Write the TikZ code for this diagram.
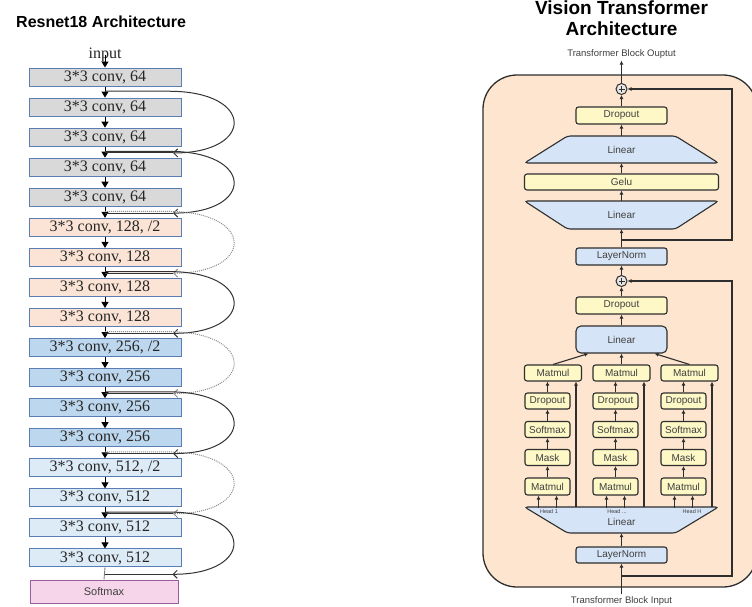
\documentclass[tikz,border=0pt]{standalone}
\usepackage{fontspec}
\setmainfont{Liberation Sans}
\newfontfamily\tnr{Liberation Serif}
\usetikzlibrary{arrows.meta,calc}
\definecolor{cgray}{HTML}{D9D9D9}
\definecolor{cpeach}{HTML}{FBE4D5}
\definecolor{cblue}{HTML}{BDD7EE}
\definecolor{clblue}{HTML}{DDEBF7}
\definecolor{cborder}{HTML}{5B7DB5}
\definecolor{smfill}{HTML}{F6D5EA}
\definecolor{smborder}{HTML}{9A5FA0}
\definecolor{vyellow}{HTML}{FDF8C6}
\definecolor{vblue}{HTML}{D6E4F7}
\definecolor{bgpeach}{HTML}{FDE5CF}
\definecolor{vline}{HTML}{2E2E2E}
\definecolor{plusfill}{HTML}{E6E6E6}
\begin{document}
\begin{tikzpicture}[x=1pt,y=-1pt,
  conv/.style={draw=cborder, line width=1pt, minimum width=152pt, minimum height=18pt, inner sep=0pt,
    font=\tnr\fontsize{16}{18}\selectfont, text=black!85},
  sarr/.style={draw=black, line width=1pt, -{Triangle[length=6pt,width=7pt]}},
  skips/.style={draw=black!80, line width=1pt, -{Straight Barb[length=4pt,width=8pt]}},
  skipd/.style={draw=black!45, line width=1pt, densely dotted, -{Straight Barb[length=4pt,width=8pt]}},
  skipin/.style={draw=black!80, line width=1pt},
  vb/.style={draw=vline, line width=1.1pt, rounded corners=2.5pt, inner sep=0pt,
    font=\fontsize{10}{11}\selectfont, text=black!75},
  yb/.style={vb, fill=vyellow},
  bb/.style={vb, fill=vblue},
  vlab/.style={inner sep=0pt, font=\fontsize{10}{11}\selectfont, text=black!75},
  va/.style={draw=vline, line width=1.1pt, -{Latex[length=4pt,width=4pt]}},
  tshape/.style={fill=vblue, draw=vline, line width=1.1pt, rounded corners=3pt},
  headlab/.style={inner sep=0pt, font=\fontsize{5.5}{6}\selectfont, text=black!75}
]
\useasboundingbox (0,0) rectangle (752,606);

% ================= ResNet18 =================
\node[anchor=west, font=\bfseries\fontsize{16}{18}\selectfont, inner sep=0pt] (t1) at (16,22) {Resnet18 Architecture};
\node[font=\tnr\fontsize{16}{18}\selectfont, inner sep=0pt, text=black!85] (inp) at (105,55) {input};

\foreach \i/\c/\t in {1/cgray/{3*3 conv, 64},2/cgray/{3*3 conv, 64},3/cgray/{3*3 conv, 64},4/cgray/{3*3 conv, 64},5/cgray/{3*3 conv, 64},
  6/cpeach/{3*3 conv, 128, /2},7/cpeach/{3*3 conv, 128},8/cpeach/{3*3 conv, 128},9/cpeach/{3*3 conv, 128},
  10/cblue/{3*3 conv, 256, /2},11/cblue/{3*3 conv, 256},12/cblue/{3*3 conv, 256},13/cblue/{3*3 conv, 256},
  14/clblue/{3*3 conv, 512, /2},15/clblue/{3*3 conv, 512},16/clblue/{3*3 conv, 512},17/clblue/{3*3 conv, 512}}{
  \pgfmathsetmacro\yy{77+30.06*(\i-1)}
  \node[conv, fill=\c] (b\i) at (105,\yy) {\t};
}
\node[draw=smborder, fill=smfill, line width=1pt, minimum width=148pt, minimum height=23pt, inner sep=0pt,
  font=\fontsize{11}{12}\selectfont, text=black!75] (sm) at (104,591.5) {Softmax};

\draw[sarr] (inp.center) -- (b1.north);
\foreach \i [evaluate=\i as \j using int(\i+1)] in {1,...,16}{
  \draw[sarr] (b\i.south) -- (b\j.north);
  \coordinate (j\i) at ($(b\i.south)!0.5!(b\j.north)$);
}
\coordinate (j17) at ($(b17.south)!0.5!(sm.north)$);
\draw[draw=black!50, line width=0.9pt] (b17.south) -- (sm.north);

\foreach \a/\b/\s in {1/3/skips,3/5/skips,5/7/skipd,7/9/skips,9/11/skipd,11/13/skips,13/15/skipd,15/17/skips}{
  \draw[\s] ($(j\a)+(0,-0.8)$) -- ($(j\a)+(64,-0.8)$) .. controls ($(j\a)+(150,-0.8)$) and ($(j\b)+(150,0.8)$) .. ($(j\b)+(68,0.8)$);
  \draw[skipin] ($(j\b)+(68,0.8)$) -- ($(j\b)+(0,0.8)$);
}

% ================= Vision Transformer =================
\node[font=\bfseries\fontsize{19}{22}\selectfont, inner sep=0pt] (t2a) at (621.5,8) {Vision Transformer};
\node[font=\bfseries\fontsize{19}{22}\selectfont, inner sep=0pt] (t2b) at (621.5,29) {Architecture};

\draw[fill=bgpeach, draw=vline, line width=1.3pt, rounded corners=34pt] (483,75) rectangle (757,587);

\node[font=\fontsize{9.5}{10}\selectfont, text=black!75, inner sep=2pt] (out) at (621.5,54) {Transformer Block Ouptut};
\node[font=\fontsize{9.5}{10}\selectfont, text=black!75, inner sep=2pt] (inb) at (621.5,601) {Transformer Block Input};

% plus circles
\node[circle, draw=vline, line width=1pt, fill=plusfill, minimum size=11pt, inner sep=0pt] (p1) at (621.5,89) {};
\draw[vline, line width=0.7pt] ($(p1)+(-3,0)$) -- ($(p1)+(3,0)$) ($(p1)+(0,-3)$) -- ($(p1)+(0,3)$);
\node[circle, draw=vline, line width=1pt, fill=plusfill, minimum size=11pt, inner sep=0pt] (p2) at (621.5,281) {};
\draw[vline, line width=0.7pt] ($(p2)+(-3,0)$) -- ($(p2)+(3,0)$) ($(p2)+(0,-3)$) -- ($(p2)+(0,3)$);

% MLP block
\node[yb, minimum width=91pt, minimum height=17pt] (drop1) at (621.5,115.5) {Dropout};
\draw[tshape] (567.5,136) -- (675.5,136) -- (718.5,163) -- (524.5,163) -- cycle;
\node[vlab, minimum width=108pt, minimum height=27pt] (lin1) at (621.5,149.5) {Linear};
\node[yb, minimum width=194pt, minimum height=16pt] (gelu) at (621.5,182) {Gelu};
\draw[tshape] (524.5,201) -- (718.5,201) -- (675.5,229) -- (567.5,229) -- cycle;
\node[vlab, minimum width=108pt, minimum height=28pt] (lin2) at (621.5,215) {Linear};
\node[bb, minimum width=91pt, minimum height=17pt] (ln1) at (621.5,256.5) {LayerNorm};

% attention block
\node[yb, minimum width=91pt, minimum height=17pt] (drop2) at (621.5,305.5) {Dropout};
\node[bb, rounded corners=5pt, minimum width=91pt, minimum height=27pt] (lin3) at (621.5,339.5) {Linear};

\node[yb, minimum width=57pt, minimum height=16pt] (mt1) at (553,373) {Matmul};
\node[yb, minimum width=57pt, minimum height=16pt] (mt2) at (621.5,373) {Matmul};
\node[yb, minimum width=57pt, minimum height=16pt] (mt3) at (689.5,373) {Matmul};

\foreach \k/\x in {1/547.5,2/615.5,3/683.5}{
  \node[yb, minimum width=45pt, minimum height=16pt] (dp\k) at (\x,401) {Dropout};
  \node[yb, minimum width=45pt, minimum height=16pt] (sf\k) at (\x,429.5) {Softmax};
  \node[yb, minimum width=45pt, minimum height=16pt] (mk\k) at (\x,457.5) {Mask};
  \node[yb, minimum width=45pt, minimum height=17pt] (ml\k) at (\x,486.5) {Matmul};
}

\draw[tshape] (524.5,507) -- (718.5,507) -- (675.5,533) -- (567.5,533) -- cycle;
\node[vlab, minimum width=194pt, minimum height=26pt] (lin4) at (621.5,520) {};
\node[vlab] (lin4t) at (621.5,521.5) {Linear};
\node[headlab] (h1) at (549,512) {Head 1};
\node[headlab] (h2) at (617,512) {Head ...};
\node[headlab] (h3) at (692,512) {Head H};

\node[bb, minimum width=91pt, minimum height=16pt] (ln2) at (621.5,555) {LayerNorm};

% main flow
\coordinate (br2) at (621.5,576);
\coordinate (br1) at (621.5,240);
\coordinate (r2a) at (732,576);
\coordinate (r2b) at (732,281);
\coordinate (r1a) at (732,240);
\coordinate (r1b) at (732,89);

\draw[va] (inb) -- (ln2);
\draw[va] (ln2) -- (lin4);
\foreach \k in {1,2,3}{
  \draw[va] ($(ml\k.south)+(-9,12.5)$) -- ($(ml\k.south)+(-9,0)$);
  \draw[va] ($(ml\k.south)+(9,12.5)$) -- ($(ml\k.south)+(9,0)$);
  \draw[va] (ml\k) -- (mk\k);
  \draw[va] (mk\k) -- (sf\k);
  \draw[va] (sf\k) -- (dp\k);
  \draw[va] (dp\k.north) -- (dp\k.north |- mt\k.south);
}
\draw[va] ($(lin4.north)+(-45.5,0)$) -- ($(mt1.south)+(23,0)$);
\draw[va] ($(lin4.north)+(22.5,0)$) -- ($(mt2.south)+(22.5,0)$);
\draw[va] ($(lin4.north)+(90.5,0)$) -- ($(mt3.south)+(22.5,0)$);
\draw[va] (mt1.north) -- ($(lin3.south)+(-33,0)$);
\draw[va] (mt2) -- (lin3);
\draw[va] (mt3.north) -- ($(lin3.south)+(33,0)$);
\draw[va] (lin3) -- (drop2);
\draw[va] (drop2) -- (p2);
\draw[va] (p2) -- (ln1);
\draw[va] (ln1) -- (lin2);
\draw[va] (lin2) -- (gelu);
\draw[va] (gelu) -- (lin1);
\draw[va] (lin1) -- (drop1);
\draw[va] (drop1) -- (p1);
\draw[va] (p1) -- (out);

\draw[va] (br2) -- (r2a) -- (r2b) -- (p2);
\draw[va] (br1) -- (r1a) -- (r1b) -- (p1);
\end{tikzpicture}
\end{document}
